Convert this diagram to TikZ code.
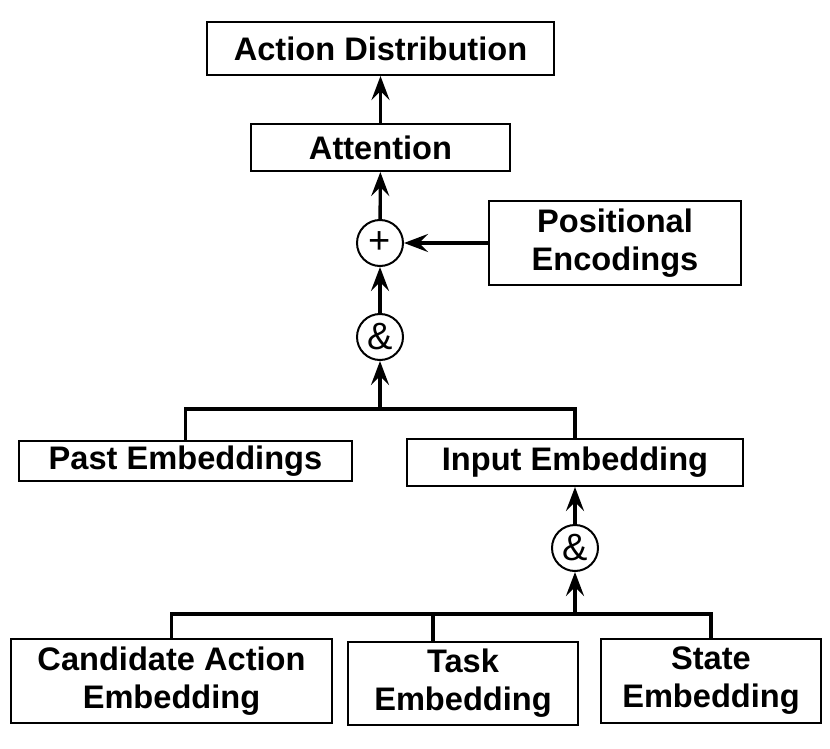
\documentclass[tikz,border=0pt]{standalone}
\usepackage{fontspec}
\setmainfont{Liberation Sans}
\usetikzlibrary{arrows.meta}

\begin{document}
\begin{tikzpicture}[x=0.5pt,y=-0.5pt,
    every node/.style={align=center, font=\bfseries\fontsize{16.3}{19}\selectfont},
    blk/.style={draw, line width=1pt, inner sep=0pt},
    op/.style={draw, circle, line width=1pt, minimum size=23pt, inner sep=0pt,
        font=\fontsize{19}{19}\selectfont},
    wire/.style={line width=1.7pt},
    >={Stealth[length=12pt,width=9pt,inset=4.5pt]},
]
\useasboundingbox (0,0) rectangle (830,749);
\node[blk, minimum width=173.5pt, minimum height=26.5pt] (dist) at (380.5,48.5) {Action Distribution};
\node[blk, minimum width=129.5pt, minimum height=23.5pt] (att) at (380.5,147.5) {Attention};
\node[op] (plus) at (380,243) {+};
\node[blk, minimum width=126pt, minimum height=42pt] (pos) at (615,243) {Positional\\Encodings};
\node[op] (amp1) at (380,337) {\&};
\coordinate (j1) at (380,409);
\node[blk, minimum width=166.5pt, minimum height=20pt] (past) at (185.5,461) {Past Embeddings};
\node[blk, minimum width=168pt, minimum height=23.5pt] (input) at (575,462.5) {Input Embedding};
\node[op] (amp2) at (575,548) {\&};
\coordinate (j2) at (575,614);
\node[blk, minimum width=160.5pt, minimum height=42pt] (cand) at (171.5,681) {Candidate Action\\Embedding};
\node[blk, minimum width=115pt, minimum height=41.5pt] (task) at (463,683.5) {Task\\Embedding};
\node[blk, minimum width=110pt, minimum height=42pt] (state) at (711,681) {State\\Embedding};
\coordinate (tasktop) at ([xshift=-15pt]task.north);

\draw[wire,->] (att) -- (dist);
\draw[wire,->] (plus) -- (att);
\draw[wire,->] (pos) -- (plus);
\draw[wire,->] (amp1) -- (plus);
\draw[wire,->] (j1) -- (amp1);
\draw[wire] (past.north) |- (j1) -| (input.north);
\draw[wire,->] (amp2) -- (input);
\draw[wire,->] (j2) -- (amp2);
\draw[wire] (cand.north) |- (j2) -| (state.north);
\draw[wire] (tasktop) -- (tasktop |- j2);
\end{tikzpicture}
\end{document}
